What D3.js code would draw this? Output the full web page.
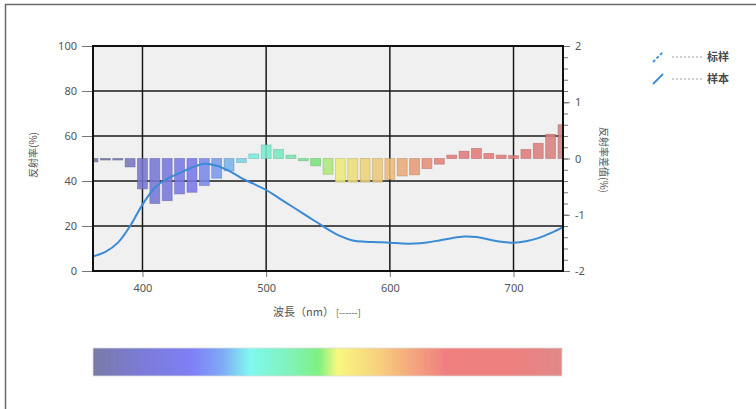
<!doctype html>
<html>
  <head>
    <meta charset="utf-8">
    <script src="https://cdnjs.cloudflare.com/ajax/libs/d3/7.8.5/d3.min.js"></script>
    <style>
      body { margin: 0; background: #fff; }
      text { font-family: "Noto Sans", "Noto Sans CJK JP", sans-serif; fill: #555; }
    </style>
  </head>
  <body>
    <svg id="chart" width="756" height="409"></svg>
    <script>
        // wavelengths of the difference bars (nm)
        var wavelengths = [360, 370, 380, 390, 400, 410, 420, 430, 440, 450, 460, 470, 480, 490,
                           500, 510, 520, 530, 540, 550, 560, 570, 580, 590, 600, 610, 620, 630,
                           640, 650, 660, 670, 680, 690, 700, 710, 720, 730, 740];
        // reflectance difference (%), right axis
        var diffValues = [-0.06, -0.02, -0.02, -0.15, -0.54, -0.80, -0.75, -0.63, -0.60, -0.48, -0.35, -0.22, -0.07, 0.08,
                          0.24, 0.16, 0.06, -0.04, -0.13, -0.28, -0.42, -0.42, -0.42, -0.42, -0.37, -0.31, -0.29, -0.18,
                          -0.10, 0.06, 0.13, 0.18, 0.09, 0.06, 0.05, 0.16, 0.27, 0.43, 0.60];
        // sample reflectance (%), left axis
        var sampleReflectance = [6.5, 8.5, 12.5, 20, 29.5, 37, 41, 43.5, 46, 47.7, 46.8, 44.5, 41.3, 38.7,
                                 36, 32.5, 29, 25.5, 22, 18.5, 15.5, 13.6, 13, 12.8, 12.6, 12.2, 12.2, 12.7,
                                 13.6, 14.6, 15.3, 15.1, 14, 13, 12.6, 13.2, 14.6, 16.8, 19.5];
        var leftTicks = [0, 20, 40, 60, 80, 100];
        var rightTicks = [-2, -1, 0, 1, 2];
        var xTicks = [400, 500, 600, 700];
        var legendNames = ["标样", "样本"];
        // spectrum colour stops (nm -> colour)
        var spectrumNm = [360, 400, 440, 465, 487, 520, 543, 558, 590, 612, 645, 700, 740];
        var spectrumColors = ["#7a7aa8", "#7b7bd8", "#7f7ff6", "#80aaf6", "#80f8f0", "#80f2b8", "#80f080",
                              "#f8f880", "#f8d27e", "#f5b07e", "#f08080", "#ee8080", "#e08888"];

        var svg = d3.select("#chart");
        var pL = 93, pR = 563, pT = 46, pB = 271;

        var x = d3.scaleLinear().domain([360, 740]).range([pL, pR]);
        var yL = d3.scaleLinear().domain([0, 100]).range([pB, pT]);
        var yR = d3.scaleLinear().domain([-2, 2]).range([pB, pT]);
        var spec = d3.scaleLinear().domain(spectrumNm).range(spectrumColors);

        // outer frame
        svg.append("path").attr("d", "M5.5,409 L5.5,4.5 L756,4.5")
            .attr("fill", "none").attr("stroke", "#6a6a6a").attr("stroke-width", 1.5);

        svg.append("clipPath").attr("id", "plotclip")
            .append("rect").attr("x", pL).attr("y", pT).attr("width", pR - pL).attr("height", pB - pT);

        svg.append("rect").attr("x", pL).attr("y", pT).attr("width", pR - pL).attr("height", pB - pT)
            .attr("fill", "#f0f0f0");

        // grid
        svg.append("g").selectAll("line").data(leftTicks.slice(1, -1)).enter().append("line")
            .attr("x1", pL).attr("x2", pR).attr("y1", d => yL(d)).attr("y2", d => yL(d))
            .attr("stroke", "#1a1a1a").attr("stroke-width", 1.5);
        svg.append("g").selectAll("line").data(xTicks).enter().append("line")
            .attr("y1", pT).attr("y2", pB).attr("x1", d => x(d)).attr("x2", d => x(d))
            .attr("stroke", "#1a1a1a").attr("stroke-width", 1.5);

        // bars
        var bars = wavelengths.map((w, i) => ({w: w, v: diffValues[i]}));
        svg.append("g").attr("clip-path", "url(#plotclip)")
            .selectAll("rect").data(bars).enter().append("rect")
            .attr("x", d => x(d.w - 4))
            .attr("width", x(368) - x(360))
            .attr("y", d => yR(Math.max(0, d.v)))
            .attr("height", d => Math.max(1.5, Math.abs(yR(d.v) - yR(0))))
            .attr("fill", d => d3.color(spec(d.w)).darker(0.15)).attr("fill-opacity", 0.88)
            .attr("stroke", d => d3.color(spec(d.w)).darker(0.8)).attr("stroke-opacity", 0.6).attr("stroke-width", 0.8);

        // sample curve
        var line = d3.line().x((d, i) => x(wavelengths[i])).y(d => yL(d)).curve(d3.curveCatmullRom);
        svg.append("path").datum(sampleReflectance)
            .attr("clip-path", "url(#plotclip)")
            .attr("d", line).attr("fill", "none").attr("stroke", "#3a8ad6").attr("stroke-width", 2);

        // plot border
        svg.append("rect").attr("x", pL).attr("y", pT).attr("width", pR - pL).attr("height", pB - pT)
            .attr("fill", "none").attr("stroke", "#111").attr("stroke-width", 2);

        // left axis
        var gl = svg.append("g").attr("transform", "translate(" + (pL - 1) + ",0)")
            .call(d3.axisLeft(yL).tickValues(leftTicks).tickSize(10).tickPadding(5));
        // right axis
        var gr = svg.append("g").attr("transform", "translate(" + (pR + 1) + ",0)")
            .call(d3.axisRight(yR).tickValues(d3.range(-2, 2.01, 0.2)).tickSize(4).tickFormat(""));
        var gr2 = svg.append("g").attr("transform", "translate(" + (pR + 1) + ",0)")
            .call(d3.axisRight(yR).tickValues(rightTicks).tickSize(6).tickPadding(5).tickFormat(d => String(d)));
        // bottom axis
        var gb = svg.append("g").attr("transform", "translate(0," + (pB + 1) + ")")
            .call(d3.axisBottom(x).tickValues(xTicks).tickSize(5).tickPadding(7));

        [gl, gr, gr2, gb].forEach(g => {
            g.select(".domain").remove();
            g.selectAll(".tick line").attr("stroke", "#777");
            g.selectAll("text").style("font-size", "11px").style("fill", "#555");
        });

        // axis titles
        svg.append("text").attr("transform", "translate(37,155) rotate(-90)")
            .attr("text-anchor", "middle").style("font-size", "10px")
            .style("font-family", "'Noto Sans CJK JP'").text("反射率(%)");
        svg.append("text").attr("transform", "translate(600,160) rotate(90)")
            .attr("text-anchor", "middle").style("font-size", "10px")
            .style("font-family", "'Noto Sans CJK JP'").text("反射率差值(%)");
        var xt = svg.append("text").attr("x", 273).attr("y", 316).style("font-size", "11px")
            .style("font-family", "'Noto Sans CJK JP'");
        xt.append("tspan").text("波長（nm）");
        xt.append("tspan").attr("dx", 2).style("font-size", "9px").text("[------]");

        // legend
        var lg = svg.append("g").selectAll("g").data(legendNames).enter().append("g")
            .attr("transform", (d, i) => "translate(653," + (57 + i * 22) + ")");
        lg.append("line").attr("x1", 0).attr("y1", 5).attr("x2", 10).attr("y2", -5)
            .attr("stroke", "#3a8ad6").attr("stroke-width", 1.8)
            .attr("stroke-dasharray", (d, i) => i === 0 ? "3,2" : null);
        lg.append("line").attr("x1", 19).attr("x2", 51).attr("y1", 0).attr("y2", 0)
            .attr("stroke", "#888").attr("stroke-width", 0.8).attr("stroke-dasharray", "2,2");
        lg.append("text").attr("x", 54).attr("y", 4).style("font-size", "11px").style("font-weight", "bold")
            .style("font-family", "'Noto Sans CJK SC'").style("fill", "#4a4a4a").text(d => d);

        // spectrum bar
        var grad = svg.append("defs").append("linearGradient").attr("id", "spectrum");
        grad.selectAll("stop").data(spectrumNm).enter().append("stop")
            .attr("offset", d => (x(d) - pL) / (pR - pL))
            .attr("stop-color", (d, i) => spectrumColors[i]);
        svg.append("rect").attr("x", pL).attr("y", 348).attr("width", pR - pL - 1).attr("height", 28)
            .attr("fill", "url(#spectrum)").attr("stroke", "#ddd").attr("stroke-width", 0.8);
    </script>
  </body>
</html>
